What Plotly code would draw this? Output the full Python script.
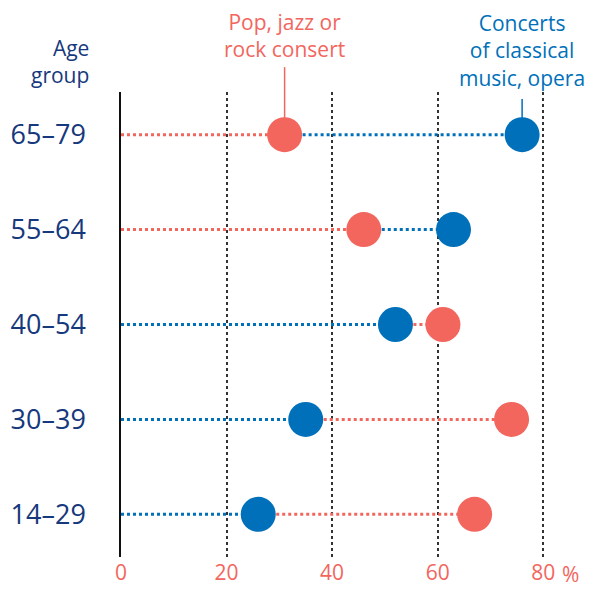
import plotly.graph_objects as go

AGE_GROUPS = ["65–79", "55–64", "40–54", "30–39", "14–29"]
POP_JAZZ_ROCK = [31, 46, 61, 74, 67]
CLASSICAL_OPERA = [76, 63, 52, 35, 26]
X_TICKS = [0, 20, 40, 60, 80]

POP_LABEL = ["Pop, jazz or", "rock consert"]
CLASSICAL_LABEL = ["Concerts", "of classical", "music, opera"]
AGE_TITLE = ["Age", "group"]

RED = "#F2665E"
BLUE = "#0070BA"
NAVY = "#16387C"
FONT = "'Open Sans', 'Noto Sans', sans-serif"

# page body has an 8px margin, so the figure is 8px smaller each way
W, H = 591, 581
L, R, T, B = 111, 3, 84, 29
PH = H - T - B


def py(y_px):
    """pixel row on the page -> paper y"""
    return (H - B - (y_px - 8)) / PH


fig = go.Figure()

# dotted connectors: the shorter series from 0, the longer one from there on
seg = {RED: ([], []), BLUE: ([], [])}
for age, p, c in zip(AGE_GROUPS, POP_JAZZ_ROCK, CLASSICAL_OPERA):
    lo, hi = (p, RED), (c, BLUE)
    if c < p:
        lo, hi = (c, BLUE), (p, RED)
    seg[lo[1]][0].extend([0, lo[0], None])
    seg[lo[1]][1].extend([age, age, None])
    seg[hi[1]][0].extend([lo[0], hi[0], None])
    seg[hi[1]][1].extend([age, age, None])

for colour, (xs, ys) in seg.items():
    fig.add_trace(go.Scatter(
        x=xs, y=ys, mode="lines",
        line=dict(color=colour, width=3, dash="dot"),
        hoverinfo="skip", showlegend=False,
    ))

for vals, colour, name in [(POP_JAZZ_ROCK, RED, "Pop, jazz or rock consert"),
                           (CLASSICAL_OPERA, BLUE, "Concerts of classical music, opera")]:
    fig.add_trace(go.Scatter(
        x=vals, y=AGE_GROUPS, mode="markers", name=name,
        marker=dict(symbol="circle", size=35, color=colour, line_width=0),
        showlegend=False,
    ))

# callout lines from top row markers to the series labels
row0 = py(135)
fig.add_shape(type="line", xref="x", yref="paper", x0=POP_JAZZ_ROCK[0], x1=POP_JAZZ_ROCK[0],
              y0=row0, y1=py(67), line=dict(color=RED, width=1.5), layer="below")
fig.add_shape(type="line", xref="x", yref="paper", x0=CLASSICAL_OPERA[0], x1=CLASSICAL_OPERA[0],
              y0=row0, y1=py(99), line=dict(color=BLUE, width=1.5), layer="below")

# series labels sit just above their callout lines
fig.add_annotation(x=POP_JAZZ_ROCK[0], xref="x", yref="paper", y=py(64), yanchor="bottom",
                   text="<br>".join(POP_LABEL), showarrow=False, borderpad=0,
                   font=dict(size=21, color=RED, family=FONT))
fig.add_annotation(x=CLASSICAL_OPERA[0], xref="x", yref="paper", y=py(93), yanchor="bottom",
                   text="<br>".join(CLASSICAL_LABEL), showarrow=False, borderpad=0,
                   font=dict(size=21, color=BLUE, family=FONT))
fig.add_annotation(xref="paper", x=(88 - 8 - L) / (W - L - R), xanchor="right",
                   yref="paper", y=py(90), yanchor="bottom", align="right", borderpad=0,
                   text="<br>".join(AGE_TITLE), showarrow=False,
                   font=dict(size=21, color=NAVY, family=FONT))

fig.add_annotation(x=80, xref="x", xanchor="left", xshift=17, yref="paper", y=py(577),
                   text="%", showarrow=False, yanchor="middle",
                   font=dict(size=21, color=RED, family=FONT))

fig.update_xaxes(
    range=[0, 90], tickvals=X_TICKS, ticktext=[str(v) for v in X_TICKS],
    showgrid=True, gridcolor="#333333", griddash="dot", gridwidth=1.5,
    zeroline=False, showline=False, ticks="", ticklabelstandoff=1,
    tickfont=dict(size=21, color=RED, family=FONT),
)
fig.update_yaxes(
    type="category", categoryarray=AGE_GROUPS, range=[4.45, -0.45],
    showgrid=False, zeroline=False, showline=True, linecolor="#111111", linewidth=1.5,
    ticks="", ticklabelstandoff=28,
    tickfont=dict(size=27, color=NAVY, family=FONT),
)
fig.update_layout(
    width=W, height=H,
    margin=dict(l=L, r=R, t=T, b=B),
    paper_bgcolor="white", plot_bgcolor="white",
    font=dict(family=FONT),
)

fig.write_html("out.html")
